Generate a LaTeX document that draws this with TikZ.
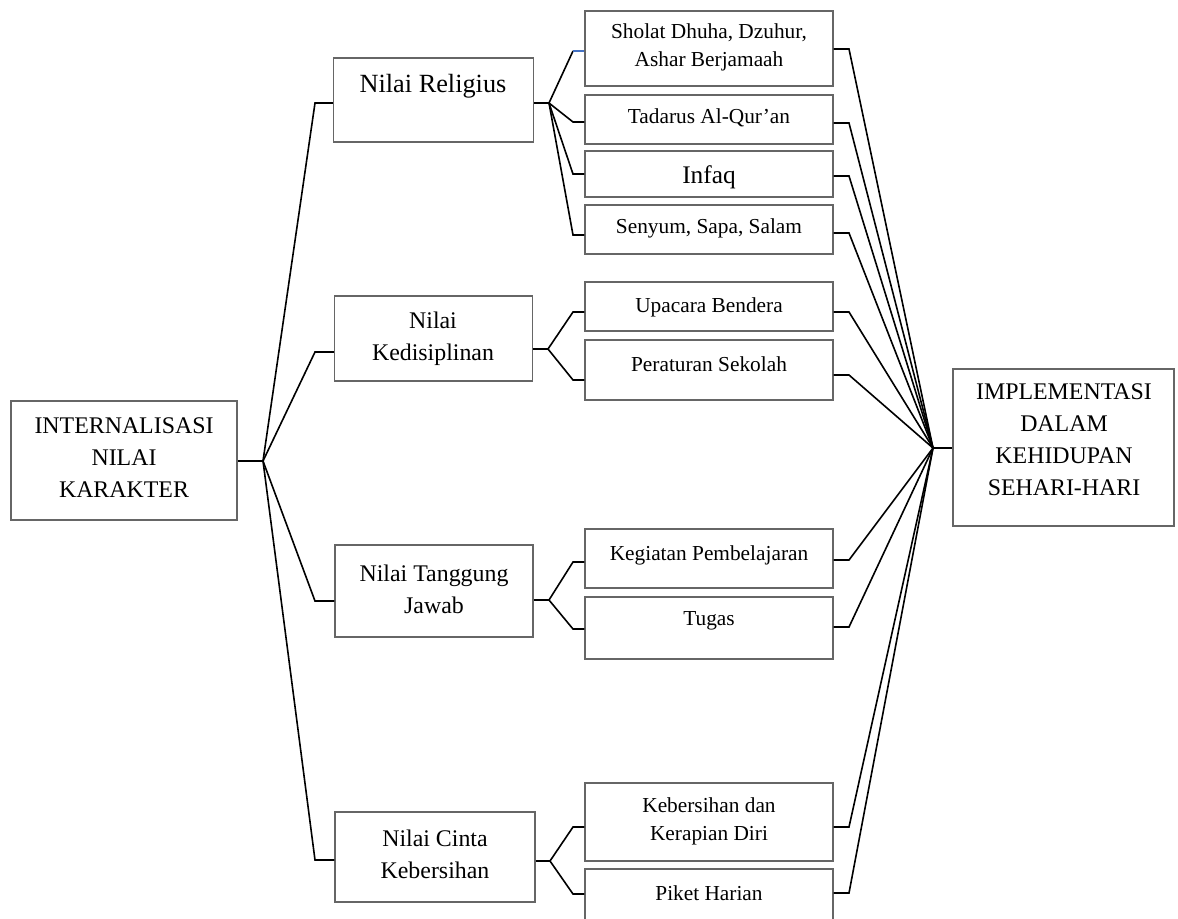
\documentclass[tikz,border=0pt]{standalone}
\usepackage{fontspec}
\setmainfont{Liberation Serif}
\begin{document}
\begin{tikzpicture}[x=0.75pt,y=-0.75pt,
  box/.style n args={2}{draw=black!60,line width=0.9pt,fill=white,inner sep=0pt,
     minimum width=#1*0.75pt,minimum height=#2*0.75pt},
  txt/.style={inner sep=0pt,align=center},
  fa/.style={font=\fontsize{17.9}{24}\selectfont},
  fb/.style={font=\fontsize{19.7}{24}\selectfont},
  fc/.style={font=\fontsize{16}{21}\selectfont},
  fd/.style={font=\fontsize{19}{21}\selectfont},
  conn/.style={draw=black,line width=1.2pt,line join=miter}]
\useasboundingbox (0,0) rectangle (1178,918);
\clip (0,0) rectangle (1178,918);
% boxes
\node[box={226}{119}] (root) at (124,460.5) {};
\node[box={200}{84}] (rel) at (433.5,100) {};
\node[box={198}{85}] (kdp) at (433.5,338.5) {};
\node[box={198}{92}] (tj) at (434,591) {};
\node[box={200}{90}] (cb) at (435,857) {};
\node[box={248}{75}] (sholat) at (709,48.5) {};
\node[box={248}{49}] (tadarus) at (709,119.5) {};
\node[box={248}{46}] (infaq) at (709,174) {};
\node[box={248}{49}] (senyum) at (709,229.5) {};
\node[box={248}{49}] (upacara) at (709,306.5) {};
\node[box={248}{60}] (peraturan) at (709,370) {};
\node[box={248}{59}] (kegiatan) at (709,558.5) {};
\node[box={248}{62}] (tugas) at (709,628) {};
\node[box={248}{78}] (kebersihan) at (709,822) {};
\node[box={248}{66}] (piket) at (709,902) {};
\node[box={221}{157}] (impl) at (1063.5,447.5) {};
% texts
\node[txt,fa] (rootT) at (124,458) {INTERNALISASI\\NILAI\\KARAKTER};
\node[txt,fb] (relT) at (433,86) {Nilai Religius};
\node[txt,fa] (kdpT) at (433,339) {Nilai\\Kedisiplinan};
\node[txt,fa] (tjT) at (434,589) {Nilai Tanggung\\Jawab};
\node[txt,fa] (cbT) at (435,854) {Nilai Cinta\\Kebersihan};
\node[txt,fc] (sholatT) at (709,47) {Sholat Dhuha, Dzuhur,\\Ashar Berjamaah};
\node[txt,fc] (tadarusT) at (709,118) {Tadarus Al-Qur’an};
\node[txt,fd] (infaqT) at (709,177) {Infaq};
\node[txt,fc] (senyumT) at (709,228) {Senyum, Sapa, Salam};
\node[txt,fc] (upacaraT) at (709,307) {Upacara Bendera};
\node[txt,fc] (peraturanT) at (709,364) {Peraturan Sekolah};
\node[txt,fc] (kegiatanT) at (709,555) {Kegiatan Pembelajaran};
\node[txt,fc] (tugasT) at (709,621) {Tugas};
\node[txt,fc] (kebersihanT) at (709,821) {Kebersihan dan\\Kerapian Diri};
\node[txt,fc] (piketT) at (709,893) {Piket Harian};
\node[txt,fa] (implT) at (1064,440) {IMPLEMENTASI\\DALAM\\KEHIDUPAN\\SEHARI-HARI};
% junction coordinates
\coordinate (j0) at (263,461);
\coordinate (relIn) at (315,103);
\coordinate (kdpIn) at (315,352);
\coordinate (tjIn) at (315,601);
\coordinate (cbIn) at (315,860);
\coordinate (relJ) at (549,103);
\coordinate (kdpJ) at (548,349);
\coordinate (tjJ) at (549,600);
\coordinate (cbJ) at (550,861);
\coordinate (sholatL) at (573,51);
\coordinate (tadarusL) at (573,122);
\coordinate (infaqL) at (573,174);
\coordinate (senyumL) at (573,235);
\coordinate (upacaraL) at (573,312);
\coordinate (peraturanL) at (573,380);
\coordinate (kegiatanL) at (573,562);
\coordinate (tugasL) at (573,629);
\coordinate (kebersihanL) at (573,827);
\coordinate (piketL) at (573,894);
\coordinate (sholatR) at (849,49);
\coordinate (tadarusR) at (849,123);
\coordinate (infaqR) at (849,176);
\coordinate (senyumR) at (849,233);
\coordinate (upacaraR) at (849,312);
\coordinate (peraturanR) at (849,375);
\coordinate (kegiatanR) at (849,560);
\coordinate (tugasR) at (849,627);
\coordinate (kebersihanR) at (849,827);
\coordinate (piketR) at (849,893);
\coordinate (j1) at (933,448);
% root to level 1
\draw[conn] (root.east |- j0) -- (j0);
\foreach \n in {rel,kdp,tj,cb}{
  \draw[conn] (j0) -- (\n In) -- (\n.west |- \n In);
}
% level 1 to children
\draw[conn] (rel.east |- relJ) -- (relJ);
\draw[conn] (kdp.east |- kdpJ) -- (kdpJ);
\draw[conn] (tj.east |- tjJ) -- (tjJ);
\draw[conn] (cb.east |- cbJ) -- (cbJ);
\draw[conn] (relJ) -- (sholatL);
\draw[draw={rgb,255:red,68;green,114;blue,196},line width=1.2pt] (sholatL) -- (sholat.west |- sholatL);
\foreach \c in {tadarus,infaq,senyum}{
  \draw[conn] (relJ) -- (\c L) -- (\c.west |- \c L);
}
\foreach \c in {upacara,peraturan}{
  \draw[conn] (kdpJ) -- (\c L) -- (\c.west |- \c L);
}
\foreach \c in {kegiatan,tugas}{
  \draw[conn] (tjJ) -- (\c L) -- (\c.west |- \c L);
}
\foreach \c in {kebersihan,piket}{
  \draw[conn] (cbJ) -- (\c L) -- (\c.west |- \c L);
}
% children to implementation
\foreach \c in {sholat,tadarus,infaq,senyum,upacara,peraturan,kegiatan,tugas,kebersihan,piket}{
  \draw[conn] (\c.east |- \c R) -- (\c R) -- (j1);
}
\draw[conn] (j1) -- (impl.west |- j1);
\end{tikzpicture}
\end{document}
